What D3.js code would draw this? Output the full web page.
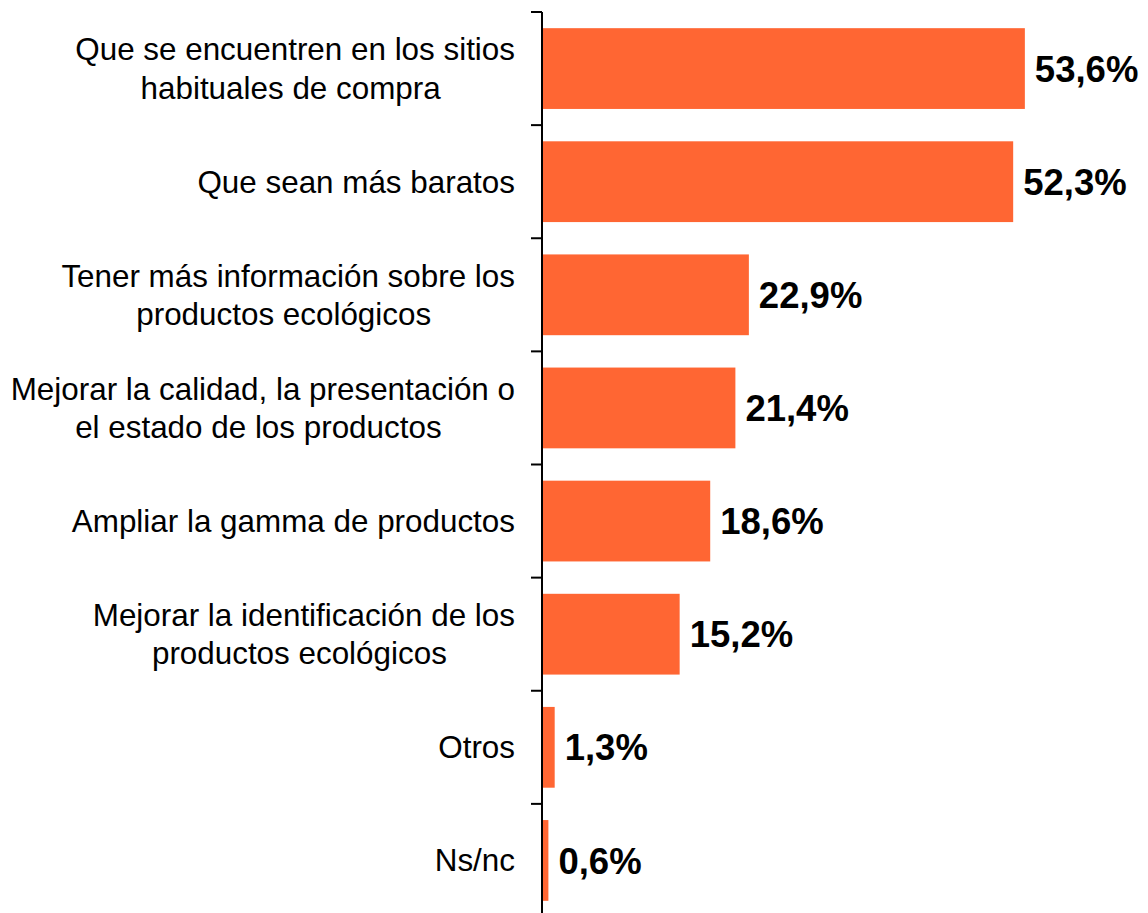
<!DOCTYPE html>
<html><head><meta charset="utf-8">
<script src="https://cdn.jsdelivr.net/npm/d3@7"></script>
<style>body{margin:0;background:#fff}</style>
</head><body><svg id="c" width="1148" height="913"></svg>
<script>
const categories = [
  ["Que se encuentren en los sitios", "habituales de compra"],
  ["Que sean más baratos"],
  ["Tener más información sobre los", "productos ecológicos"],
  ["Mejorar la calidad, la presentación o", "el estado de los productos"],
  ["Ampliar la gamma de productos"],
  ["Mejorar la identificación de los", "productos ecológicos"],
  ["Otros"],
  ["Ns/nc"]
];
const values = [53.6, 52.3, 22.9, 21.4, 18.6, 15.2, 1.3, 0.6];
const valueLabels = ["53,6%", "52,3%", "22,9%", "21,4%", "18,6%", "15,2%", "1,3%", "0,6%"];

(function () {
const svg = d3.select("#c");
const x0 = 542, yTop = 12, yBottom = 917, labelRight = 515;
const ids = categories.map((d, i) => i);
const y = d3.scaleBand().domain(ids).range([yTop, yBottom]).paddingInner(0).paddingOuter(0);
const x = d3.scaleLinear().domain([0, 60]).range([x0, x0 + 60 * 8.99]);
const bw = y.bandwidth();
const barH = bw * 0.714, barOff = bw * 0.143;

svg.selectAll("rect.bar").data(values).enter().append("rect")
  .attr("x", x(0) + 1)
  .attr("y", (d, i) => y(i) + barOff)
  .attr("width", d => x(d) - x(0))
  .attr("height", barH)
  .attr("fill", "#FF6633");

svg.append("line").attr("x1", x0).attr("x2", x0).attr("y1", yTop).attr("y2", yBottom)
  .attr("stroke", "#000").attr("stroke-width", 2);
const tickYs = ids.map(i => y(i)).concat([yBottom]);
svg.selectAll("line.tick").data(tickYs).enter().append("line")
  .attr("x1", x0 - 11).attr("x2", x0).attr("y1", d => d).attr("y2", d => d)
  .attr("stroke", "#000").attr("stroke-width", 2);

const lh = 38.5;
categories.forEach((lines, i) => {
  const cy = y(i) + bw / 2;
  let centre = null;
  lines.forEach((ln, j) => {
    const t = svg.append("text")
      .attr("text-anchor", j === 0 ? "end" : "middle")
      .attr("x", j === 0 ? labelRight : centre)
      .attr("y", cy + (j - (lines.length - 1) / 2) * lh)
      .attr("dy", "0.35em")
      .attr("font-family", "Liberation Sans, Arial, sans-serif").attr("font-size", 31.4).attr("fill", "#000")
      .text(ln);
    if (j === 0) centre = labelRight - t.node().getComputedTextLength() / 2 - 4.5;
  });
});

svg.selectAll("text.val").data(values).enter().append("text")
  .attr("x", d => x(d) + 11)
  .attr("y", (d, i) => y(i) + bw / 2)
  .attr("dy", "0.36em")
  .attr("font-family", "Liberation Sans, Arial, sans-serif").attr("font-weight", "bold")
  .attr("font-size", 36.5).attr("fill", "#000")
  .text((d, i) => valueLabels[i]);
})();
</script></body></html>
